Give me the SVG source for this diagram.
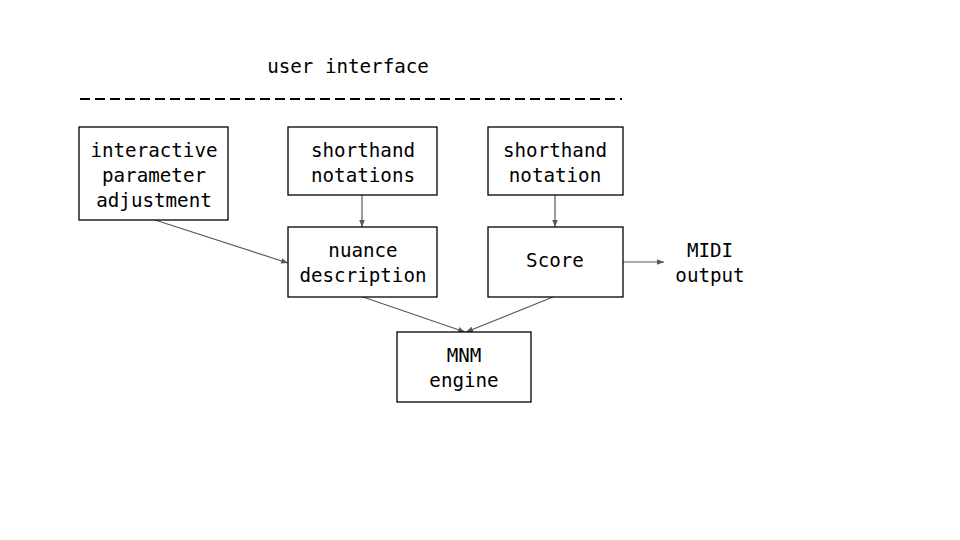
<svg xmlns="http://www.w3.org/2000/svg" width="960" height="540" viewBox="0 0 960 540">
<style>
.box{fill:#fff;stroke:#000;stroke-width:1.3}
text{font-family:"DejaVu Sans Mono","Liberation Mono",monospace;font-size:19.2px;fill:#000;text-anchor:middle}
.c{stroke:#595959;stroke-width:1.2;fill:none;marker-end:url(#a)}
</style>
<defs>
<marker id="a" viewBox="0 0 10 10" refX="10" refY="5" markerWidth="7" markerHeight="7" markerUnits="userSpaceOnUse" orient="auto">
<path d="M0,1 L10,5 L0,9 z" fill="#595959"/>
</marker>
</defs>
<rect width="960" height="540" fill="#fff"/>
<g id="ui-label">
<text x="348" y="73">user interface</text>
<line x1="80" y1="99" x2="622" y2="99" stroke="#000" stroke-width="2" stroke-dasharray="10,5"/>
</g>
<g id="connectors">
<line class="c" x1="155" y1="220" x2="288" y2="263"/>
<line class="c" x1="362" y1="195" x2="362" y2="227"/>
<line class="c" x1="555" y1="195" x2="555" y2="227"/>
<line class="c" x1="363" y1="297" x2="465" y2="332"/>
<line class="c" x1="553" y1="297" x2="466" y2="332"/>
<line class="c" x1="623" y1="262" x2="664" y2="262"/>
</g>
<g id="interactive">
<rect class="box" x="79" y="127" width="149" height="93"/>
<text x="154" y="157">interactive</text>
<text x="154" y="182">parameter</text>
<text x="154" y="207">adjustment</text>
</g>
<g id="shorthand-notations">
<rect class="box" x="288" y="127" width="149" height="68"/>
<text x="363" y="157">shorthand</text>
<text x="363" y="182">notations</text>
</g>
<g id="shorthand-notation">
<rect class="box" x="488" y="127" width="135" height="68"/>
<text x="555" y="157">shorthand</text>
<text x="555" y="182">notation</text>
</g>
<g id="nuance">
<rect class="box" x="288" y="227" width="149" height="70"/>
<text x="363" y="257">nuance</text>
<text x="363" y="282">description</text>
</g>
<g id="score">
<rect class="box" x="488" y="227" width="135" height="70"/>
<text x="555" y="267">Score</text>
</g>
<g id="midi">
<text x="710" y="257">MIDI</text>
<text x="710" y="282">output</text>
</g>
<g id="engine">
<rect class="box" x="397" y="332" width="134" height="70"/>
<text x="464" y="362">MNM</text>
<text x="464" y="387">engine</text>
</g>
</svg>
